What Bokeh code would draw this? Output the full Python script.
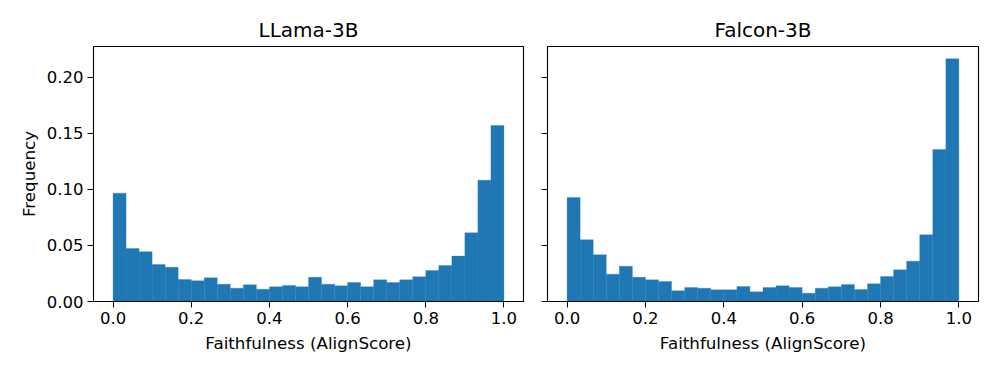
import numpy as np
from bokeh.plotting import figure
from bokeh.layouts import row
from bokeh.models import Range1d, FixedTicker, NumeralTickFormatter, CustomJSTickFormatter
from bokeh.embed import file_html
from bokeh.resources import INLINE

# Histogram bins (30 equal bins on [0, 1])
bin_edges = np.linspace(0.0, 1.0, 31)

llama_freq = [0.0967, 0.0473, 0.0444, 0.0330, 0.0306, 0.0196, 0.0185, 0.0211, 0.0155, 0.0119,
              0.0149, 0.0110, 0.0131, 0.0143, 0.0131, 0.0217, 0.0155, 0.0140, 0.0170, 0.0131,
              0.0193, 0.0170, 0.0193, 0.0220, 0.0277, 0.0321, 0.0405, 0.0613, 0.1083, 0.1570]

falcon_freq = [0.0929, 0.0551, 0.0417, 0.0244, 0.0315, 0.0217, 0.0193, 0.0179, 0.0095, 0.0125,
               0.0119, 0.0104, 0.0104, 0.0134, 0.0086, 0.0125, 0.0140, 0.0125, 0.0074, 0.0119,
               0.0131, 0.0152, 0.0107, 0.0158, 0.0223, 0.0283, 0.0360, 0.0595, 0.1357, 0.2167]

titles = ["LLama-3B", "Falcon-3B"]
x_label = "Faithfulness (AlignScore)"
y_label = "Frequency"
x_ticks = [0.0, 0.2, 0.4, 0.6, 0.8, 1.0]
y_ticks = [0.00, 0.05, 0.10, 0.15, 0.20]

FONT = "DejaVu Sans"
BAR = "#1f77b4"
y_max = max(max(llama_freq), max(falcon_freq)) * 1.05


def make_fig(title, freq, width, mbl, mbr, show_ylabels):
    p = figure(width=width, height=366, output_backend="svg", toolbar_location=None,
               x_range=Range1d(-0.05, 1.05), y_range=Range1d(0, y_max),
               min_border_left=mbl, min_border_right=mbr, min_border_top=46,
               min_border_bottom=65, title=title)
    p.quad(left=bin_edges[:-1], right=bin_edges[1:], bottom=0, top=freq,
           fill_color=BAR, line_color=BAR, line_width=0.3)
    p.title.align = "center"
    p.title.text_font = FONT
    p.title.text_font_size = "20px"
    p.title.text_font_style = "normal"
    p.title.text_color = "black"
    p.xgrid.visible = False
    p.ygrid.visible = False
    p.outline_line_color = "black"
    p.outline_line_width = 1.1
    p.outline_line_alpha = 1.0
    for ax in (p.xaxis[0], p.yaxis[0]):
        ax.axis_line_color = "black"
        ax.major_tick_line_color = "black"
        ax.major_tick_in = 0
        ax.major_tick_out = 6
        ax.minor_tick_line_color = None
        ax.major_label_text_font = FONT
        ax.major_label_text_font_size = "16.5px"
        ax.major_label_text_color = "black"
        ax.axis_label_text_font = FONT
        ax.axis_label_text_font_size = "16.7px"
        ax.axis_label_text_font_style = "normal"
        ax.axis_label_text_color = "black"
    p.xaxis.ticker = FixedTicker(ticks=x_ticks)
    p.xaxis.formatter = NumeralTickFormatter(format="0.0")
    p.xaxis.axis_label = x_label
    p.xaxis.axis_label_standoff = 6
    p.xaxis.major_label_standoff = 4
    p.yaxis.ticker = FixedTicker(ticks=y_ticks)
    if show_ylabels:
        p.yaxis.formatter = NumeralTickFormatter(format="0.00")
        p.yaxis.axis_label = y_label
        p.yaxis.major_label_standoff = 4
    else:
        # shared y axis: ticks only, no labels
        p.yaxis.formatter = CustomJSTickFormatter(code="return '';")
        p.yaxis.major_label_standoff = 0
    return p


p1 = make_fig(titles[0], llama_freq, 530, 93, 7, True)
p2 = make_fig(titles[1], falcon_freq, 454, 17, 6, False)
layout = row(p1, p2)

open("out.html", "w").write(file_html(layout, INLINE))
